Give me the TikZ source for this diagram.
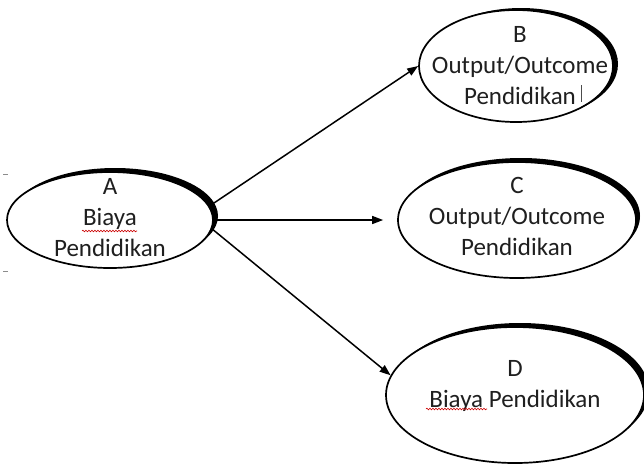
\documentclass[tikz,border=0pt]{standalone}
\usepackage{fontspec}
\setmainfont{Carlito}
\usetikzlibrary{shapes.geometric,shadows,arrows.meta,decorations.pathmorphing}
\begin{document}
\begin{tikzpicture}[x=1pt,y=-1pt,
  oval/.style={ellipse, draw, line width=1.7pt, fill=white, inner sep=0pt},
  heavy/.style 2 args={general shadow={fill=black, shadow xshift=#1, shadow yshift=#2}},
  txt/.style={align=center, font=\fontsize{25pt}{31pt}\selectfont, text=black!88},
  link/.style={line width=1.5pt, -{Triangle[length=11pt,width=8pt]}},
  squig/.style={red!80!black, line width=0.6pt, decorate,
    decoration={snake, amplitude=0.8pt, segment length=3pt}}]
\useasboundingbox (0,0) rectangle (644,467);

% the four ovals, each with its heavy rim on the upper right
\node[oval, heavy={5pt}{4pt}, minimum width=206pt, minimum height=96pt,
  label={[txt, yshift=2pt]center:{A\\Biaya\\Pendidikan}}] (A) at (110,220) {};
\node[oval, heavy={5pt}{2pt}, minimum width=194pt, minimum height=112pt,
  label={[txt, xshift=4pt]center:{B\\Output/Outcome\\Pendidikan}}] (B) at (516,66) {};
\node[oval, heavy={4pt}{4pt}, minimum width=238pt, minimum height=116pt,
  label={[txt, yshift=4pt]center:{C\\Output/Outcome\\Pendidikan}}] (C) at (517,220) {};
\node[oval, heavy={5pt}{4pt}, minimum width=258pt, minimum height=136pt,
  label={[txt, yshift=9pt]center:{D\\Biaya Pendidikan}}] (D) at (515,395) {};

% connectors
\draw[link] (A.8) -- (B.west);
\draw[link, shorten >=14pt] (A.east) -- (C.west);
\draw[link] (A.-5) -- (D.171);

% spell-check underlines and text cursor
\draw[squig] ([shift={(-28,11)}]A.center) -- ([shift={(27,11)}]A.center);
\draw[squig] ([shift={(-89,14)}]D.center) -- ([shift={(-28,14)}]D.center);
\draw[black!70, line width=0.6pt] ([shift={(65,19)}]B.center) -- ([shift={(65,36)}]B.center);

% small margin ticks
\draw[black!45, line width=0.8pt] (3,174) -- (8,174);
\draw[black!45, line width=0.8pt] (3,271) -- (8,271);
\end{tikzpicture}
\end{document}
